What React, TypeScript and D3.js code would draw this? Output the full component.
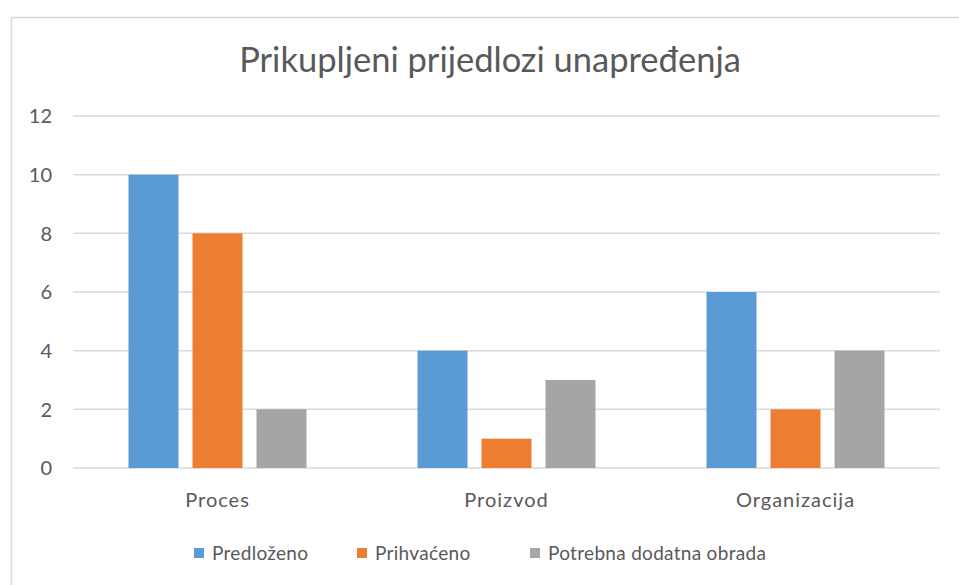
import React from "react";
import * as d3 from "d3";

const categories = ["Proces", "Proizvod", "Organizacija"];
const seriesNames = ["Predloženo", "Prihvaćeno", "Potrebna dodatna obrada"];
const predlozeno = [10, 4, 6];
const prihvaceno = [8, 1, 2];
const dodatnaObrada = [2, 3, 4];
const yTicks = [0, 2, 4, 6, 8, 10, 12];
const colors = ["#5B9BD5", "#ED7D31", "#A5A5A5"];

const W = 959;
const H = 585;
const FONT = "Lato, 'Open Sans', sans-serif";
const TEXT = "#595959";

export default function App() {
  const series = [predlozeno, prihvaceno, dodatnaObrada];
  const plot = { left: 73, right: 940, top: 116, bottom: 468 };

  const x = d3
    .scaleBand<string>()
    .domain(categories)
    .range([plot.left, plot.right])
    .paddingInner(0)
    .paddingOuter(0);
  const y = d3.scaleLinear().domain([0, 12]).range([plot.bottom, plot.top]);

  const barW = 50;
  const barGap = 14;
  const groupW = barW * 3 + barGap * 2;

  const legendItems = [
    { label: seriesNames[0], x: 194 },
    { label: seriesNames[1], x: 357 },
    { label: seriesNames[2], x: 530 },
  ];

  return (
    <svg
      width={W}
      height={H}
      style={{ position: "absolute", left: 0, top: 0, background: "#fff" }}
    >
      <rect x={11.5} y={17.5} width={980} height={620} fill="#fff" stroke="#D9D9D9" strokeWidth={1.5} />
      <text
        x={490}
        y={72}
        textAnchor="middle"
        fontFamily={FONT}
        fontSize={34.5}
        fill={TEXT}
      >
        Prikupljeni prijedlozi unapređenja
      </text>

      {yTicks.map((t) => (
        <g key={t}>
          <line
            x1={plot.left}
            x2={plot.right}
            y1={y(t)}
            y2={y(t)}
            stroke="#D9D9D9"
            strokeWidth={1.5}
          />
          <text
            x={52}
            y={y(t)}
            dy="0.36em"
            textAnchor="end"
            fontFamily={FONT}
            fontSize={20}
            fill={TEXT}
          >
            {t}
          </text>
        </g>
      ))}

      {categories.map((c, ci) => {
        const cx = (x(c) as number) + x.bandwidth() / 2;
        const start = cx - groupW / 2;
        return (
          <g key={c}>
            {series.map((s, si) => (
              <rect
                key={si}
                x={start + si * (barW + barGap)}
                y={y(s[ci])}
                width={barW}
                height={y(0) - y(s[ci])}
                fill={colors[si]}
              />
            ))}
            <text
              x={cx}
              y={507}
              textAnchor="middle"
              fontFamily={FONT}
              fontSize={20}
              fill={TEXT}
              letterSpacing={1}
            >
              {c}
            </text>
          </g>
        );
      })}

      {legendItems.map((it, i) => (
        <g key={it.label}>
          <rect x={it.x} y={548} width={10} height={10} fill={colors[i]} />
          <text
            x={it.x + 18}
            y={560}
            fontFamily={FONT}
            fontSize={19}
            fill={TEXT}
            letterSpacing={0.3}
          >
            {it.label}
          </text>
        </g>
      ))}
    </svg>
  );
}
